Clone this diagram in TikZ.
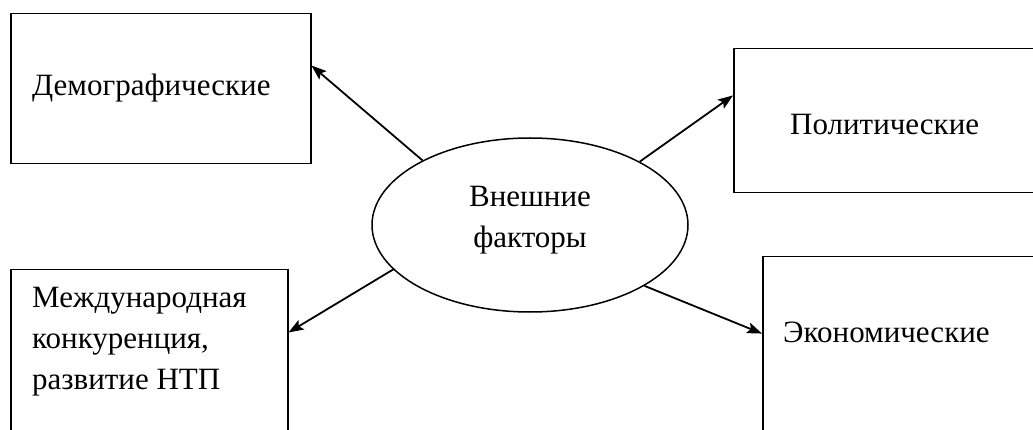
\documentclass[tikz,border=0pt]{standalone}
\usepackage{fontspec}
\setmainfont{Liberation Serif}
\usetikzlibrary{arrows.meta,shapes.geometric,calc}
\begin{document}
\begin{tikzpicture}[x=1pt,y=-1pt,
  box/.style={draw, line width=1.5pt, rectangle, inner sep=0pt, anchor=north west},
  lbl/.style={font=\rmfamily\fontsize{31}{41}\selectfont, inner sep=0pt, align=left},
  arr/.style={line width=1.8pt, -{Stealth[length=15pt,width=11pt,inset=3pt]}}]
\clip (0,0) rectangle (1033,430);
\fill[white] (0,0) rectangle (1033,430);
% boxes
\node[box, minimum width=300pt, minimum height=150pt] (demo) at (10,13) {};
\node[box, minimum width=320pt, minimum height=144pt] (pol) at (733,48) {};
\node[box, minimum width=277pt, minimum height=200pt] (mezh) at (10,269) {};
\node[box, minimum width=300pt, minimum height=200pt] (econ) at (762,256) {};
% labels
\node[lbl, anchor=west] (tdemo) at (32,88) {Демографические};
\node[lbl, anchor=west] (tpol) at (790,125) {Политические};
\node[lbl, anchor=west] (tmezh) at (32,342) {Международная\\конкуренция,\\развитие НТП};
\node[lbl, anchor=west] (tecon) at (783,332) {Экономические};
% ellipse
\node[ellipse, draw, line width=1.5pt, minimum width=316pt, minimum height=174pt,
      inner sep=0pt, align=center, font=\rmfamily\fontsize{31}{41}\selectfont] (ext) at (530,225)
      {Внешние\\факторы\\[-25pt]};
% arrows
\draw[arr] (ext.149) -- ($(demo.north east)!0.347!(demo.south east)$);
\draw[arr] (ext.30) -- ($(pol.north west)!0.326!(pol.south west)$);
\draw[arr] (ext.198) -- ($(mezh.north east)!0.315!(mezh.south east)$);
\draw[arr] (ext.332) -- ($(econ.north west)!0.385!(econ.south west)$);
\end{tikzpicture}
\end{document}
